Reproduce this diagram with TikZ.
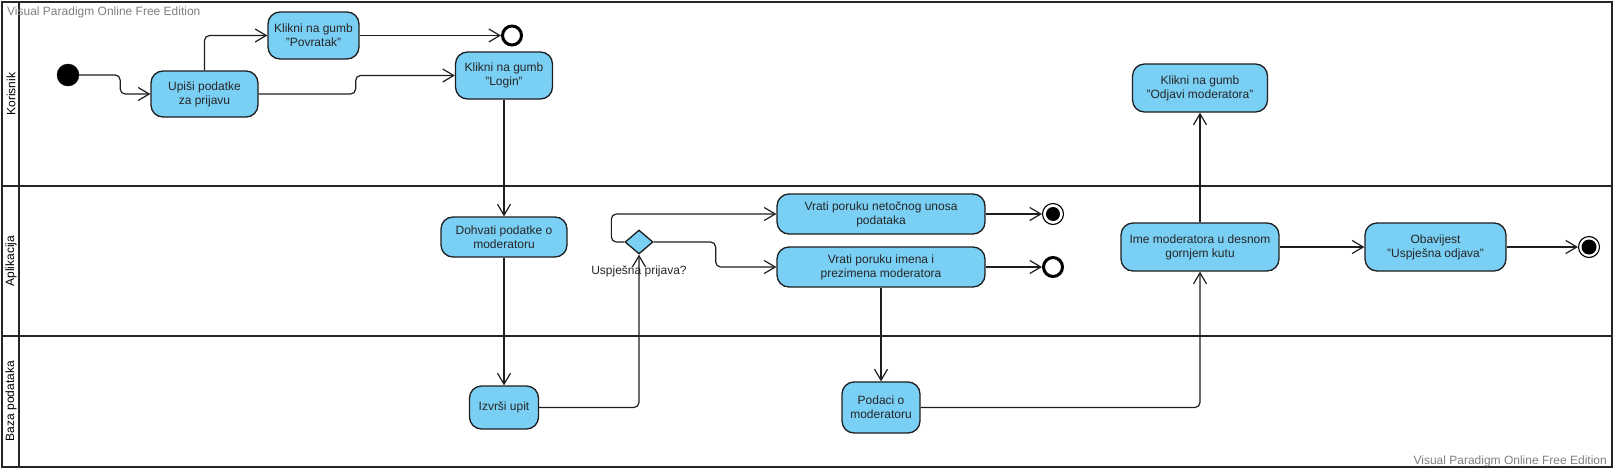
\documentclass[tikz,border=0pt]{standalone}
\usepackage{fontspec}
\setmainfont{Liberation Sans}
\usetikzlibrary{arrows.meta,shapes.geometric}
\definecolor{actfill}{RGB}{122,207,245}
\definecolor{edge}{RGB}{30,30,30}
\definecolor{wm}{RGB}{128,128,128}
\begin{document}
\begin{tikzpicture}[x=1pt,y=-1pt,
  font=\fontsize{12}{14}\selectfont,
  act/.style 2 args={draw=edge, line width=1.3pt, fill=actfill, rounded corners=12pt,
    align=center, inner sep=0pt, text=black!85, minimum width=#1, minimum height=#2},
  flow/.style={draw=edge, line width=1.2pt, rounded corners=5pt,
    -{Straight Barb[length=11pt,width=13pt,line width=1.2pt]}},
  lane/.style={draw=black!85, line width=2pt},
  lanelabel/.style={rotate=90, text=black, inner sep=0pt},
  wmark/.style={text=wm, inner sep=0pt},
  initnode/.style={circle, fill=black, draw=black, minimum size=22pt, inner sep=0pt},
  flowfinal/.style={circle, draw=black, line width=3pt, fill=white, minimum size=19pt, inner sep=0pt},
  actfinal/.style={circle, draw=black, line width=1.1pt, fill=white, minimum size=21pt, inner sep=0pt},
]
\useasboundingbox (0,0) rectangle (1614,469);
\fill[white] (0,0) rectangle (1614,469);

% swimlane frame
\draw[lane] (2,2) rectangle (1612,467);
\draw[lane] (19,2) -- (19,467);
\draw[lane] (2,186) -- (1612,186);
\draw[lane] (2,336) -- (1612,336);

\node[lanelabel] (lk) at (11,94) {Korisnik};
\node[lanelabel] (la) at (11,261) {Aplikacija};
\node[lanelabel] (lb) at (11,401) {Baza podataka};

\node[wmark, anchor=west] (wm1) at (7,12) {Visual Paradigm Online Free Edition};
\node[wmark, anchor=east] (wm2) at (1607,461) {Visual Paradigm Online Free Edition};

% nodes
\node[initnode] (init) at (68,75) {};
\node[act={107pt}{46pt}] (upisi) at (204.5,94) {Upiši podatke\\za prijavu};
\node[act={91pt}{47pt}] (povratak) at (313.5,35.5) {Klikni na gumb\\"Povratak"};
\node[flowfinal] (ff1) at (512,35.5) {};
\node[act={97pt}{47pt}] (login) at (504,75.5) {Klikni na gumb\\"Login"};
\node[act={126pt}{40pt}] (dohvati) at (504,237) {Dohvati podatke o\\moderatoru};
\node[diamond, aspect=1.17, draw=edge, fill=actfill, line width=1.3pt,
      minimum width=28pt, minimum height=24pt, inner sep=0pt] (dec) at (639,242) {};
\node[inner sep=0pt, text=black!85] (declabel) at (639,271) {Uspješna prijava?};
\node[act={208pt}{40pt}] (netocnog) at (881,214) {Vrati poruku netočnog unosa\\podataka};
\node[act={208pt}{40pt}] (imena) at (881,267) {Vrati poruku imena i\\prezimena moderatora};
\node[actfinal] (af1) at (1053,214) {};
\fill[black] (af1.center) circle (7pt);
\node[flowfinal] (ff2) at (1053,267) {};
\node[act={69pt}{43pt}] (izvrsi) at (504,407.5) {Izvrši upit};
\node[act={78pt}{51pt}] (podaci) at (881,407.5) {Podaci o\\moderatoru};
\node[act={158pt}{48pt}] (ime) at (1200,247) {Ime moderatora u desnom\\gornjem kutu};
\node[act={135pt}{48pt}] (odjavi) at (1200,88) {Klikni na gumb\\"Odjavi moderatora"};
\node[act={141pt}{48pt}] (obavijest) at (1435.5,247) {Obavijest\\"Uspješna odjava"};
\node[actfinal] (af2) at (1589,247) {};
\fill[black] (af2.center) circle (7.5pt);

% connectors
\draw[flow] (init.east) -- ++(41,0) |- (upisi.west);
\draw[flow] (upisi.north) |- (povratak.west);
\draw[flow] (povratak.east) -- (ff1.west);
\draw[flow] (upisi.east) -- ++(97,0) |- (login.west);
\draw[flow] (login.south) -- (dohvati.north);
\draw[flow] (dohvati.south) -- (izvrsi.north);
\draw[flow] (izvrsi.east) -| (dec.south);
\draw[flow] (dec.west) -- ++(-13,0) |- (netocnog.west);
\draw[flow] (dec.east) -- ++(62,0) |- (imena.west);
\draw[flow] (netocnog.east) -- (af1.west);
\draw[flow] (imena.east) -- (ff2.west);
\draw[flow] (imena.south) -- (podaci.north);
\draw[flow] (podaci.east) -| (ime.south);
\draw[flow] (ime.north) -- (odjavi.south);
\draw[flow] (ime.east) -- (obavijest.west);
\draw[flow] (obavijest.east) -- (af2.west);
\end{tikzpicture}
\end{document}
